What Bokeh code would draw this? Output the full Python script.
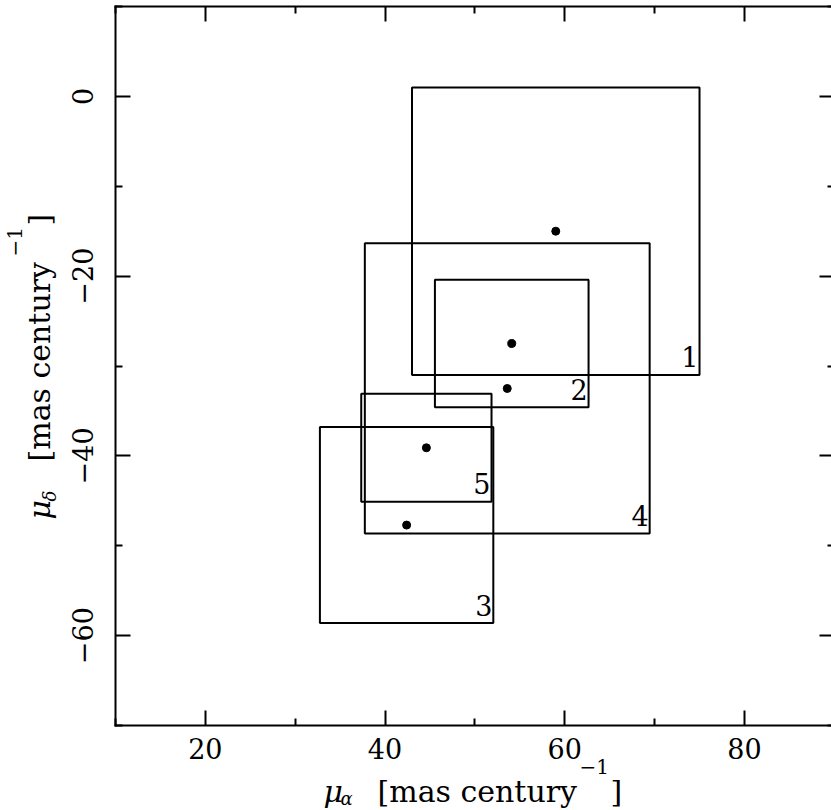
import math
from bokeh.plotting import figure
from bokeh.models import (ColumnDataSource, LinearAxis, FixedTicker,
                          CustomJSTickFormatter, Label, Range1d)
from bokeh.embed import file_html
from bokeh.resources import INLINE

# ---------------- data ----------------
box_labels = ["1", "2", "3", "4", "5"]
mu_alpha = [59.0, 54.1, 42.4, 53.6, 44.6]      # mas/century
mu_delta = [-15.0, -27.5, -47.7, -32.5, -39.1]  # mas/century
err_alpha = [16.0, 8.55, 9.65, 15.85, 7.25]
err_delta = [16.0, 7.1, 10.9, 16.15, 6.0]

x_lim = (10, 90)
y_lim = (-70, 10)
x_ticks = [20, 40, 60, 80]
x_minor = [10, 30, 50, 70, 90]
x_tick_labels = ["20", "40", "60", "80"]
y_ticks = [0, -20, -40, -60]
y_minor = [10, -10, -30, -50, -70]
y_tick_labels = ["0", "\u221220", "\u221240", "\u221260"]

FONT = "DejaVu Serif"
W, H = 831, 810
# pixel layout of the plotting box inside the page
BOX_L, BOX_T = 115.0, 6.0
SX, SY = 8.985, 8.9875   # px per data unit
K = 0.37                 # baseline correction of the text renderer (em)

def X(px):
    return x_lim[0] + (px - BOX_L) / SX

def Y(py):
    return y_lim[1] - (py - BOX_T) / SY

src = ColumnDataSource(dict(
    x=mu_alpha, y=mu_delta, label=box_labels,
    left=[a - e for a, e in zip(mu_alpha, err_alpha)],
    right=[a + e for a, e in zip(mu_alpha, err_alpha)],
    bottom=[d - e for d, e in zip(mu_delta, err_delta)],
    top=[d + e for d, e in zip(mu_delta, err_delta)],
))

p = figure(width=W, height=H,
           x_range=Range1d(X(0), X(W)), y_range=Range1d(Y(H), Y(0)),
           output_backend="svg", toolbar_location=None,
           min_border=0, x_axis_type=None, y_axis_type=None)
p.xgrid.visible = False
p.ygrid.visible = False
p.outline_line_color = None
p.background_fill_color = "white"
p.border_fill_color = "white"

def make_axis(loc, bounds, ticks, minor, labels=None, standoff=12, vertical=False):
    ax = LinearAxis(fixed_location=loc, bounds=bounds)
    ax.ticker = FixedTicker(ticks=ticks, minor_ticks=minor)
    ax.major_tick_in = 15
    ax.major_tick_out = 0
    ax.minor_tick_in = 7
    ax.minor_tick_out = 0
    ax.major_tick_line_width = 2
    ax.minor_tick_line_width = 2
    ax.axis_line_width = 2
    ax.axis_line_cap = "square"
    ax.axis_line_color = "black"
    ax.major_tick_line_color = "black"
    ax.minor_tick_line_color = "black"
    if labels is None:
        ax.formatter = CustomJSTickFormatter(code="return '';")
        ax.major_label_text_font_size = "0px"
        ax.major_label_standoff = 0
    else:
        ax.formatter = CustomJSTickFormatter(
            args=dict(tv=ticks, tl=labels),
            code="const i = tv.indexOf(tick); return i >= 0 ? tl[i] : '';")
        ax.major_label_text_font = FONT
        ax.major_label_text_font_size = "27px"
        ax.major_label_text_color = "black"
        ax.major_label_standoff = standoff
        if vertical:
            ax.major_label_orientation = "vertical"
    return ax

p.add_layout(make_axis(y_lim[0], x_lim, x_ticks, x_minor, x_tick_labels, standoff=12), "below")
p.add_layout(make_axis(x_lim[0], y_lim, y_ticks, y_minor, y_tick_labels, standoff=23, vertical=True), "left")
p.add_layout(make_axis(y_lim[1], x_lim, x_ticks, x_minor), "above")
p.add_layout(make_axis(x_lim[1], y_lim, y_ticks, y_minor), "right")

# boxes, centre points, labels
p.quad(left="left", right="right", bottom="bottom", top="top", source=src,
       fill_color=None, line_color="black", line_width=2)
p.scatter(x="x", y="y", source=src, size=8, color="black")
p.text(x="right", y="bottom", text="label", source=src,
       text_font={"value": FONT}, text_font_size="27px",
       text_align="right", text_baseline="alphabetic",
       x_offset=-1, y_offset=-18, text_color="black")

# ---------------- axis titles (pieces) ----------------
def lab(along, base, text, size, italic=False, rotated=False):
    """along: start position along the text direction (px); base: baseline (px)."""
    d = K * size
    if rotated:
        px, py, angle = base - d, along, math.pi / 2
    else:
        px, py, angle = along, base - d, 0.0
    p.add_layout(Label(x=X(px), y=Y(py), text=text, angle=angle,
                       text_font=FONT, text_font_size=f"{size}px",
                       text_font_style="italic" if italic else "normal",
                       text_align="left", text_baseline="alphabetic",
                       text_color="black"))

# x title: mu_alpha [mas century^-1]
lab(323, 802, "\u03bc", 30, italic=True)
lab(340, 805, "\u03b1", 18, italic=True)
lab(377, 802, "[mas century", 30)
lab(579, 773, "\u22121", 20)
lab(610, 802, "]", 30)

# y title: mu_delta [mas century^-1], reading bottom to top
lab(519, 50, "\u03bc", 30, italic=True, rotated=True)
lab(501, 56, "\u03b4", 18, italic=True, rotated=True)
lab(461, 50, "[mas century", 30, rotated=True)
lab(256, 21, "\u22121", 20, rotated=True)
lab(225, 50, "]", 30, rotated=True)

open("out.html", "w").write(file_html(p, INLINE))
